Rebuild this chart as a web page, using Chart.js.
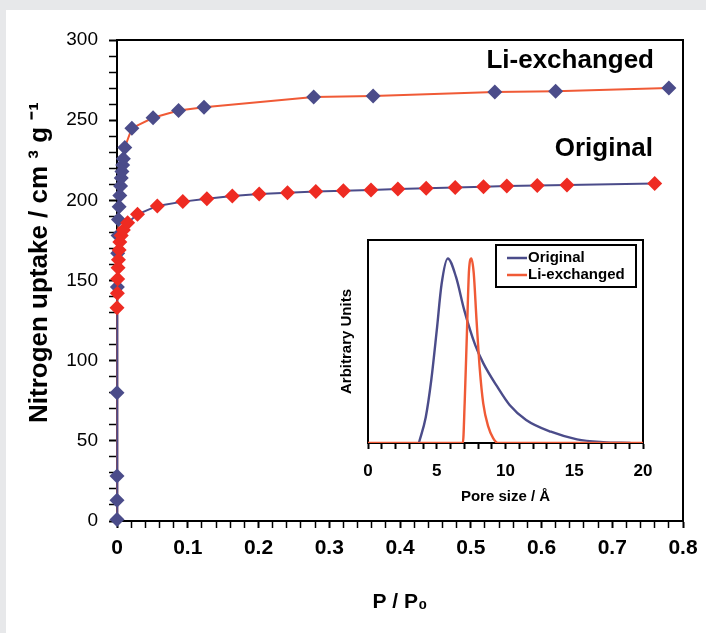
<!DOCTYPE html>
<html>
<head>
<meta charset="utf-8">
<script src="https://cdn.jsdelivr.net/npm/chart.js@4.4.0/dist/chart.umd.min.js"></script>
<style>
html, body { margin:0; padding:0; background:#e7e8ea; }
#wrap { position:absolute; left:6px; top:10px; width:700px; height:623px; background:#fff; }
#main { position:absolute; left:0; top:0; }
#inset { position:absolute; left:322px; top:222px; }
</style>
</head>
<body>
<div id="wrap">
  <canvas id="main" width="700" height="623"></canvas>
  <canvas id="inset" width="325" height="280"></canvas>
</div>
<script>
// isotherm data (P/P0, cm3/g)
var liX = [0, 0, 0, 0, 0.0005, 0.001, 0.0015, 0.002, 0.003, 0.004, 0.005, 0.006, 0.007, 0.008, 0.009, 0.011, 0.021, 0.051, 0.087, 0.123, 0.278, 0.362, 0.534, 0.62, 0.78];
var liY = [1, 13, 28, 80, 146, 167, 178, 188, 196, 203, 209, 214, 218, 222, 226, 233, 245, 251.5, 256, 258, 264.5, 265, 267.5, 268, 270];

var origX = [0, 0, 0.0005, 0.001, 0.0015, 0.002, 0.003, 0.004, 0.006, 0.009, 0.015, 0.029, 0.057, 0.093, 0.127, 0.163, 0.201, 0.241, 0.281, 0.32, 0.359, 0.397, 0.437, 0.478, 0.518, 0.551, 0.594, 0.636, 0.76];
var origY = [0, 133, 142, 151, 158, 163, 169, 174, 178, 181.5, 186, 191.3, 196.5, 199.2, 201, 202.7, 204, 204.8, 205.5, 206, 206.5, 207, 207.5, 208, 208.5, 209, 209.3, 209.5, 210.5];

// pore size distribution (inset)
var poreOrigX = [3.7, 4.2, 4.6, 5.0, 5.35, 5.8, 6.4, 7.0, 7.8, 8.4, 9.4, 10.3, 11.5, 13.3, 15.2, 17.1, 19.1];
var poreOrigY = [0, 0.14, 0.34, 0.61, 0.86, 1.0, 0.9, 0.72, 0.53, 0.43, 0.305, 0.206, 0.125, 0.061, 0.02, 0.005, 0];
var poreLiX = [0, 6.9, 7.03, 7.2, 7.35, 7.52, 7.69, 7.89, 8.13, 8.38, 8.74, 9.1, 9.45, 20];
var poreLiY = [0, 0, 0.215, 0.61, 0.94, 1.0, 0.92, 0.67, 0.40, 0.215, 0.09, 0.027, 0, 0];

var seriesNames = ['Li-exchanged', 'Original'];
var yTitle = 'Nitrogen uptake / cm ³ g ⁻¹';

var FONT = "'Liberation Sans', Arial, sans-serif";
var NAVY = '#4b4c8a';
var ORANGE = '#f05a36';
var RED = '#ee2b22';

function pts(xs, ys) {
  return xs.map(function (x, i) { return { x: x, y: ys[i] }; });
}

// box round the plot area
var frame = {
  id: 'frame',
  beforeDatasetsDraw: function (chart) {
    var a = chart.chartArea, c = chart.ctx;
    c.save();
    c.strokeStyle = '#000';
    c.lineWidth = 2;
    c.strokeRect(a.left, a.top, a.right - a.left, a.bottom - a.top);
    c.restore();
  }
};

// series names next to the curves + the y title (sits a bit above the axis middle)
var curveNames = {
  id: 'curveNames',
  afterDraw: function (chart) {
    var a = chart.chartArea, c = chart.ctx;
    c.save();
    c.fillStyle = '#000';
    c.font = 'bold 26px ' + FONT;
    c.textAlign = 'right';
    c.textBaseline = 'middle';
    c.fillText(chart.data.datasets[0].label, a.right - 29, a.top + 21);
    c.fillText(chart.data.datasets[1].label, a.right - 30, a.top + 109);

    c.translate(34, (a.top + a.bottom) / 2 - 18);
    c.rotate(-Math.PI / 2);
    c.textAlign = 'center';
    c.fillText(yTitle, 0, 0);
    c.restore();
  }
};

function isTenth(v) {
  return Math.abs(v * 10 - Math.round(v * 10)) < 1e-6;
}

new Chart(document.getElementById('main'), {
  type: 'scatter',
  data: {
    datasets: [{
      label: seriesNames[0],
      data: pts(liX, liY),
      showLine: true,
      borderColor: ORANGE,
      borderWidth: 2,
      tension: 0,
      pointStyle: 'rectRot',
      pointRadius: 7.5,
      pointBackgroundColor: NAVY,
      pointBorderColor: NAVY,
      pointBorderWidth: 0,
      clip: false,
      order: 1
    }, {
      label: seriesNames[1],
      data: pts(origX, origY),
      showLine: true,
      borderColor: NAVY,
      borderWidth: 2,
      tension: 0,
      pointStyle: 'rectRot',
      pointRadius: function (c) { return c.dataIndex === 0 ? 0 : 7.5; },
      pointBackgroundColor: RED,
      pointBorderColor: RED,
      pointBorderWidth: 0,
      clip: false,
      order: 0
    }]
  },
  options: {
    responsive: false,
    animation: false,
    layout: { padding: { left: 0, right: 23, top: 30, bottom: 0 } },
    plugins: { legend: { display: false }, tooltip: { enabled: false } },
    scales: {
      x: {
        type: 'linear', min: 0, max: 0.8,
        ticks: {
          stepSize: 0.02, autoSkip: false, maxRotation: 0, color: '#000', padding: 8,
          font: { family: FONT, size: 21, weight: 'bold' },
          callback: function (v) { return isTenth(v) ? (v === 0 ? '0' : v.toFixed(1)) : ''; }
        },
        grid: {
          drawOnChartArea: false, tickLength: 7, tickColor: '#000',
          tickWidth: function (c) { return c.tick && isTenth(c.tick.value) ? 2 : 1.5; }
        },
        border: { color: '#000', width: 2 },
        title: {
          display: true, text: 'P / P₀', color: '#000',
          font: { family: FONT, size: 21, weight: 'bold' },
          padding: { top: 0, bottom: 18 }
        },
        afterFit: function (s) { s.height = 112; s.paddingLeft = 0; s.paddingRight = 0; }
      },
      y: {
        min: 0, max: 300,
        ticks: {
          stepSize: 10, autoSkip: false, color: '#000', padding: 11,
          font: { family: FONT, size: 19 },
          callback: function (v) { return v % 50 === 0 ? v : ''; }
        },
        grid: {
          drawOnChartArea: false, tickLength: 8, tickColor: '#000',
          tickWidth: function (c) { return c.tick && c.tick.value % 50 === 0 ? 2 : 1.5; }
        },
        border: { color: '#000', width: 2 },
        afterFit: function (s) { s.width = 111; }
      }
    }
  },
  plugins: [frame, curveNames]
});

// little legend box in the inset
var insetLegend = {
  id: 'insetLegend',
  afterDraw: function (chart) {
    var a = chart.chartArea, c = chart.ctx;
    var w = 140, h = 42;
    var x0 = a.right - 7 - w, y0 = a.top + 5;
    c.save();
    c.fillStyle = '#fff';
    c.fillRect(x0, y0, w, h);
    c.strokeStyle = '#000';
    c.lineWidth = 2;
    c.strokeRect(x0, y0, w, h);
    c.font = 'bold 15px ' + FONT;
    c.textBaseline = 'middle';
    c.textAlign = 'left';
    var order = [1, 0];
    order.forEach(function (di, k) {
      var ds = chart.data.datasets[di];
      var yy = y0 + 13 + k * 17;
      c.strokeStyle = ds.borderColor;
      c.lineWidth = 2.5;
      c.beginPath();
      c.moveTo(x0 + 11, yy);
      c.lineTo(x0 + 31, yy);
      c.stroke();
      c.fillStyle = '#000';
      c.fillText(ds.label, x0 + 32, yy);
    });
    c.restore();
  }
};

new Chart(document.getElementById('inset'), {
  type: 'scatter',
  data: {
    datasets: [{
      label: seriesNames[0],
      data: pts(poreLiX, poreLiY),
      showLine: true,
      borderColor: ORANGE,
      borderWidth: 2.4,
      cubicInterpolationMode: 'monotone',
      pointRadius: 0,
      order: 0
    }, {
      label: seriesNames[1],
      data: pts(poreOrigX, poreOrigY),
      showLine: true,
      borderColor: NAVY,
      borderWidth: 2.4,
      cubicInterpolationMode: 'monotone',
      pointRadius: 0,
      order: 1
    }]
  },
  options: {
    responsive: false,
    animation: false,
    layout: { padding: { left: 0, right: 10, top: 8, bottom: 0 } },
    plugins: { legend: { display: false }, tooltip: { enabled: false } },
    scales: {
      x: {
        type: 'linear', min: 0, max: 20,
        ticks: {
          stepSize: 1, autoSkip: false, maxRotation: 0, color: '#000', padding: 12,
          font: { family: FONT, size: 17, weight: 'bold' },
          callback: function (v) { return v % 5 === 0 ? v : ''; }
        },
        grid: { drawOnChartArea: false, tickLength: 6, tickColor: '#000', tickWidth: 2 },
        border: { color: '#000', width: 2 },
        title: {
          display: true, text: 'Pore size / Å', color: '#000',
          font: { family: FONT, size: 15, weight: 'bold' },
          padding: { top: 0, bottom: 6 }
        },
        afterFit: function (s) { s.height = 69; s.paddingLeft = 0; s.paddingRight = 0; }
      },
      y: {
        min: 0, max: 1.1,
        ticks: { display: false },
        grid: { drawOnChartArea: false, drawTicks: false },
        border: { color: '#000', width: 2 },
        title: {
          display: true, text: 'Arbitrary Units', color: '#000',
          font: { family: FONT, size: 15, weight: 'bold' },
          padding: { top: 10, bottom: 0 }
        },
        afterFit: function (s) { s.width = 40; }
      }
    }
  },
  plugins: [frame, insetLegend]
});
</script>
</body>
</html>
